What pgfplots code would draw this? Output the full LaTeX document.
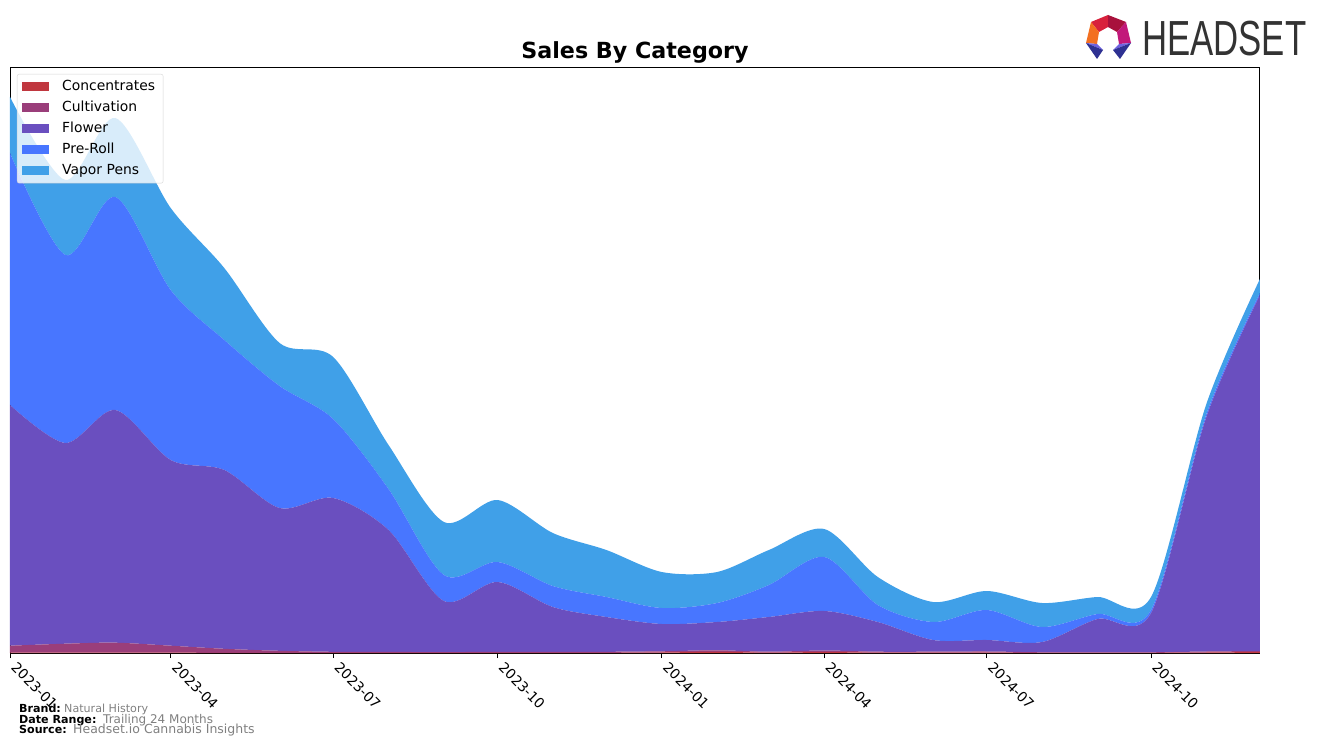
\documentclass[border=0pt]{standalone}
\usepackage{fontspec}
\setmainfont{DejaVu Sans}
\newfontfamily\logofont{Liberation Sans}
\usepackage{graphicx}
\usepackage{pgfplots}
\pgfplotsset{compat=1.18}
\usepackage{pgfplotstable}

\definecolor{cConc}{HTML}{C0373F}
\definecolor{cCult}{HTML}{9A3E7A}
\definecolor{cFlower}{HTML}{6A4FBF}
\definecolor{cPre}{HTML}{4876FF}
\definecolor{cVape}{HTML}{40A0E8}
\definecolor{logogray}{HTML}{333333}
\definecolor{lgA}{HTML}{D8213C}
\definecolor{lgB}{HTML}{A8113C}
\definecolor{lgC}{HTML}{F37021}
\definecolor{lgD}{HTML}{C2187A}
\definecolor{lgE}{HTML}{6E62E0}
\definecolor{lgF}{HTML}{2E3192}

% days since 2023-01-01; values in chart units
\pgfplotstableread{
d   conc cult flower preroll vapor
0   0.3  7    240.7  252  56
31  0.3  9    200.7  188  75
59  0.3  10   232.7  213  79
90  0.3  7    185.7  170  82
120 0.2  4    178.8  130  72
151 0.2  2    142.8  122  43
181 0.2  1    153.8  79   62
212 0.1  1    121.9  41   44
243 0.1  0.8  51.1   26   53
273 0.2  1    69.8   20   62
304 0.2  1    44.8   21   53
334 0.2  1    34.8   20   47
365 0.5  1.2  27.3   16   36
396 1.2  1.5  28.3   19   31
425 0.3  1    34.7   32   35
456 1.0  1.5  39.5   54   28
486 0.3  1    29.7   17   28
517 0.3  1    11.7   18   20
547 0.3  1.2  11.5   30   19
578 0.2  0.5  10.3   15   24
609 0.2  0.5  33.3   5    17
639 0.2  0.5  39.3   3    13
670 0.5  1    234.5  3    10
700 1.0  1    356    2    14
}\datatable

\newcommand{\rt}[1]{\rotatebox{-45}{#1}}

\begin{document}
\begin{tikzpicture}[x=1pt,y=1pt]
\path[use as bounding box] (0,0) rectangle (1324,747);
\begin{axis}[
  at={(10pt,94pt)}, anchor=south west,
  scale only axis, width=1250pt, height=586pt,
  xmin=0, xmax=700, ymin=0, ymax=586,
  stack plots=y,
  ytick=\empty,
  xtick={0,90,181,273,365,456,547,639},
  xticklabels={\rt{2023-01},\rt{2023-04},\rt{2023-07},\rt{2023-10},\rt{2024-01},\rt{2024-04},\rt{2024-07},\rt{2024-10}},
  xtick pos=left, xtick align=outside,
  major tick length=5pt,
  every tick/.style={black, line width=0.9pt},
  axis line style={black, line width=0.9pt},
  xticklabel style={anchor=north west, inner sep=0pt, yshift=-3pt,
    font=\fontsize{13.9}{16}\selectfont},
  legend style={at={(0,1)}, anchor=north west, xshift=7pt, yshift=-7pt,
    draw=black!20, fill=white, fill opacity=0.8, text opacity=1, draw opacity=0.8,
    rounded corners=2pt, inner xsep=4.5pt, inner ysep=2pt,
    font=\fontsize{13.9}{16}\selectfont, row sep=0pt, column sep=10pt,
    nodes={text height=10.5pt, text depth=3.5pt, inner sep=3.5pt}},
  legend cell align=left,
  legend image code/.code={\fill[#1, fill opacity=1, sharp corners] (0pt,-4.5pt) rectangle (27pt,4.5pt);},
]
\addplot[fill=cConc, draw=none, smooth] table[x=d,y=conc]{\datatable} \closedcycle;
\addplot[fill=cCult, draw=none, smooth] table[x=d,y=cult]{\datatable} \closedcycle;
\addplot[fill=cFlower, draw=none, smooth] table[x=d,y=flower]{\datatable} \closedcycle;
\addplot[fill=cPre, draw=none, smooth] table[x=d,y=preroll]{\datatable} \closedcycle;
\addplot[fill=cVape, draw=none, smooth] table[x=d,y=vapor]{\datatable} \closedcycle;
\legend{Concentrates,Cultivation,Flower,Pre-Roll,Vapor Pens}
\end{axis}

% title
\node[anchor=base, inner sep=0, font=\fontsize{22.2}{26}\selectfont\bfseries] at (635,688) {Sales By Category};

% footer
\node[anchor=base west, inner sep=0, font=\fontsize{11.1}{13}\selectfont\bfseries] at (19,35) {Brand:};
\node[anchor=base west, inner sep=0, text=gray, font=\fontsize{11.1}{13}\selectfont] at (64,35) {Natural History};
\node[anchor=base west, inner sep=0, font=\fontsize{11.1}{13}\selectfont\bfseries] at (19,23.5) {Date Range:};
\node[anchor=base west, inner sep=0, text=gray, font=\fontsize{12}{14}\selectfont] at (103,23.5) {Trailing 24 Months};
\node[anchor=base west, inner sep=0, font=\fontsize{11.1}{13}\selectfont\bfseries] at (19,13.5) {Source:};
\node[anchor=base west, inner sep=0, text=gray, font=\fontsize{12.5}{14}\selectfont] at (73,13.5) {Headset.io Cannabis Insights};

% logo
\node[anchor=base west, inner sep=0, text=logogray] at (1142,691)
  {\scalebox{0.705}[1]{\logofont\fontsize{49.3}{52}\selectfont HEADSET}};
\begin{scope}[shift={(0,747)}, yscale=-1]
  \fill[lgA] (1108,15) -- (1091,22) -- (1099,32) -- (1108,27) -- cycle;
  \fill[lgB] (1108,15) -- (1126,22) -- (1117,32) -- (1108,27) -- cycle;
  \fill[lgC] (1091,22) -- (1086,43) -- (1097,44) -- (1099,32) -- cycle;
  \fill[lgD] (1126,22) -- (1131,43) -- (1119,44) -- (1117,32) -- cycle;
  \fill[lgE] (1086,43) -- (1097,44) -- (1103,50) -- cycle;
  \fill[lgF] (1086,43) -- (1103,50) -- (1097,59) -- cycle;
  \fill[lgE] (1131,43) -- (1119,44) -- (1113,50) -- cycle;
  \fill[lgF] (1131,43) -- (1113,50) -- (1120,59) -- cycle;
\end{scope}
\end{tikzpicture}
\end{document}
